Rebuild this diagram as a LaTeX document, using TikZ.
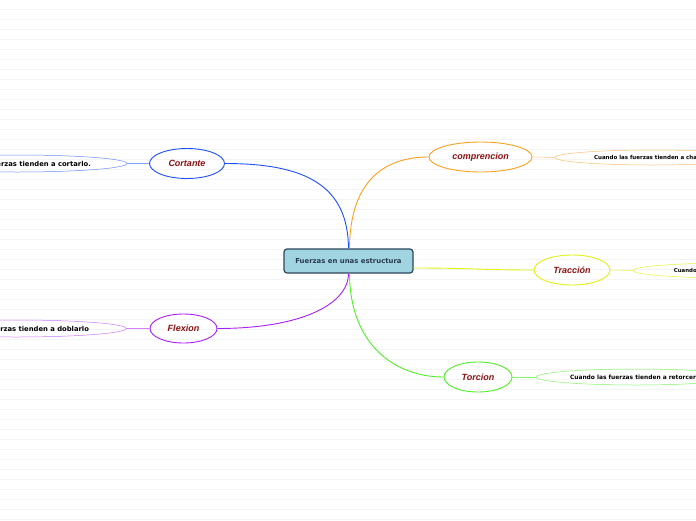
\documentclass[tikz,border=0pt]{standalone}
\usepackage{fontspec}
\setmainfont{Liberation Sans}
\newfontfamily\leaffont{DejaVu Sans}
\usetikzlibrary{shapes.geometric}
\definecolor{cblue}{RGB}{30,80,250}
\definecolor{cpurple}{RGB}{170,30,250}
\definecolor{corange}{RGB}{250,160,30}
\definecolor{cyellow}{RGB}{225,242,20}
\definecolor{cgreen}{RGB}{80,240,40}
\definecolor{lblred}{RGB}{140,18,18}
\definecolor{cfill}{RGB}{160,212,225}
\definecolor{cborder}{RGB}{45,70,88}
\definecolor{ctext}{RGB}{40,58,78}
\definecolor{bgline}{RGB}{244,244,244}
\tikzset{
  topic/.style={ellipse, draw, line width=0.9pt, inner sep=0pt, minimum height=30pt,
    font=\fontsize{9}{10}\selectfont\bfseries\itshape, text=lblred},
  leaf/.style={ellipse, draw, line width=0.5pt, inner sep=0pt, text=black},
  conn/.style={line width=0.9pt},
  leafconn/.style={line width=0.5pt}
}
\begin{document}
\begin{tikzpicture}[x=1pt,y=-1pt]
\clip (0,0) rectangle (696,520);
\fill[white] (0,0) rectangle (696,520);
\foreach \k in {0,...,51} {
  \draw[bgline, line width=0.6pt] (0,9.5+10*\k) -- (696,9.5+10*\k);
}
% central node
\node[draw=cborder, fill=cfill, line width=1.2pt, rounded corners=3pt,
  minimum width=129pt, minimum height=24pt, inner sep=0pt,
  font=\leaffont\fontsize{6.9}{8}\selectfont\bfseries, text=ctext] (c) at (348.5,261) {Fuerzas en unas estructura};

% topics
\node[topic, draw=cblue, minimum width=75pt] (cort) at (187,163.5) {Cortante};
\node[topic, draw=cpurple, minimum width=67pt, minimum height=29pt] (flex) at (183.5,328.5) {Flexion};
\node[topic, draw=corange, minimum width=103pt] (comp) at (480.5,157) {comprencion};
\node[topic, draw=cyellow, minimum width=76pt] (trac) at (572,270) {Tracción};
\node[topic, draw=cgreen, minimum width=68pt] (torc) at (478,377) {Torcion};

% leaves
\node[leaf, draw=cblue!65, minimum width=219pt, minimum height=17pt,
  font=\leaffont\fontsize{6.8}{7}\selectfont\bfseries] (lcort) at (17.5,163.5) {Cuando las fuerzas tienden a cortarlo.};
\node[leaf, draw=cpurple!60, minimum width=220pt, minimum height=17pt,
  font=\leaffont\fontsize{6.8}{7}\selectfont\bfseries] (lflex) at (16.2,328.5) {Cuando las fuerzas tienden a doblarlo};
\node[leaf, draw=corange!65, minimum width=196pt, minimum height=15pt,
  font=\leaffont\fontsize{5.5}{6}\selectfont\bfseries] (lcomp) at (652.8,157.5) {Cuando las fuerzas tienden a chafarlo};
\node[leaf, draw=cyellow!85, minimum width=198pt, minimum height=15pt,
  font=\leaffont\fontsize{5.4}{6}\selectfont\bfseries] (ltrac) at (732,270.5) {Cuando las fuerzas tienden a estirarlo};
\node[leaf, draw=cgreen!70, minimum width=200pt, minimum height=16pt,
  font=\leaffont\fontsize{5.9}{6.5}\selectfont\bfseries] (ltorc) at (636,377) {Cuando las fuerzas tienden a retorcerlo};

% main connectors
\draw[conn, cblue] (c.north) .. controls (348,185) and (305,163.5) .. (cort.east);
\draw[conn, corange] ([xshift=1pt]c.north) .. controls (350,180) and (385,157) .. (comp.west);
\draw[conn, cpurple] (c.south) .. controls (348,305) and (300,328.5) .. (flex.east);
\draw[conn, cgreen] ([xshift=1pt]c.south) .. controls (350,345) and (395,377) .. (torc.west);
\draw[conn, cyellow] ([yshift=-7pt]c.east) .. controls (470,268) and (480,270) .. (trac.west);

% leaf connectors
\draw[leafconn, cblue!55] (cort.west) -- (lcort.east);
\draw[leafconn, cpurple!55] (flex.west) -- (lflex.east);
\draw[leafconn, corange!60] (comp.east) -- (lcomp.west);
\draw[leafconn, cyellow!85] (trac.east) -- (ltrac.west);
\draw[leafconn, cgreen!70] (torc.east) -- (ltorc.west);
\end{tikzpicture}
\end{document}
